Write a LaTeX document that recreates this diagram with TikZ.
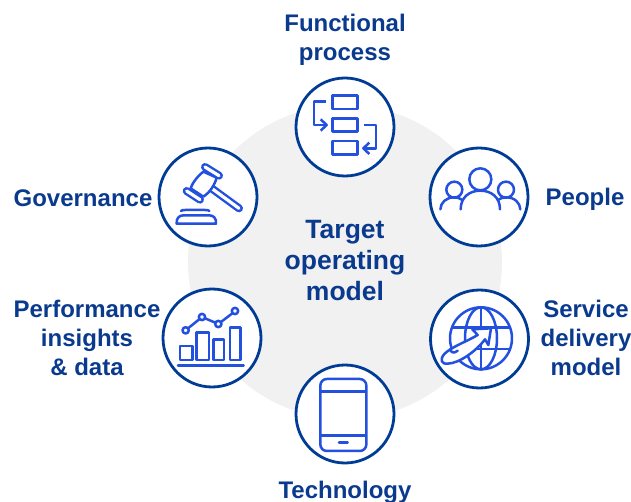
\documentclass[tikz,border=0pt]{standalone}
\usepackage{fontspec}
\setmainfont{Liberation Sans}
\definecolor{ringblue}{HTML}{003C96}
\definecolor{iconblue}{HTML}{2450E0}
\definecolor{textblue}{HTML}{0A3A8E}
\definecolor{discgray}{HTML}{F1F1F1}
\tikzset{
  ring/.style={circle,draw=ringblue,line width=2.8pt,fill=white,minimum size=98pt,inner sep=0pt},
  disc/.style={circle,fill=discgray,minimum size=314pt,inner sep=0pt},
  lbl/.style={text=textblue,font=\bfseries\fontsize{24}{29}\selectfont,align=center,inner sep=0pt},
  centerlbl/.style={text=textblue,font=\bfseries\fontsize{26.5}{31}\selectfont,align=center,inner sep=0pt},
  icon/.style={draw=iconblue,line width=2.5pt,line join=round},
  iconf/.style={icon,line cap=round},
  pillout/.style={draw=iconblue,line width=8pt,line cap=round},
  pillin/.style={draw=white,line width=3.2pt,line cap=round},
  zoomed/.style={shift={#1},scale=0.3333},
}
\begin{document}
\begin{tikzpicture}[x=1pt,y=-1pt]
\useasboundingbox (0,0) rectangle (631,502);
\node[disc] (hub) at (345,262) {};
\node[centerlbl] (hublabel) at (345,261) {Target\\operating\\model};
\node[ring] (functional) at (345,127) {};
\node[ring] (governance) at (208,197) {};
\node[ring] (people) at (479,197) {};
\node[ring] (performance) at (212,338) {};
\node[ring] (service) at (479.5,339) {};
\node[ring] (technology) at (345,414) {};
\node[lbl] (lf) at (345,39.5) {Functional\\process};
\node[lbl] (lg) at (83,198) {Governance};
\node[lbl] (lp) at (585,199) {People};
\node[lbl] (li) at (87,338) {Performance\\insights\\\&\ data};
\node[lbl] (ls) at (586,338) {Service\\delivery\\model};
\node[lbl] (lt) at (345,492) {Technology};
% functional process icon
\begin{scope}[zoomed={(280,60)}]
\draw[icon] (157,107) rectangle (232,147);
\draw[icon] (157,175) rectangle (232,215);
\draw[icon] (157,243) rectangle (232,283);
\draw[icon] (137,125) -- (102,125) -- (102,195) -- (138,195);
\draw[icon] (122,178) -- (140,195) -- (122,212);
\draw[icon] (252,195) -- (288,195) -- (288,265) -- (252,265);
\draw[icon] (268,248) -- (250,265) -- (268,282);
\end{scope}
% gavel icon
\begin{scope}[zoomed={(170,155)}]
\draw[pillout] (118,95) -- (207,160);
\draw[pillin] (118,95) -- (207,160);
\draw[icon,fill=white] (100,50) .. controls (85,62) and (70,78) .. (62,100) -- (100,125) .. controls (120,112) and (134,90) .. (140,68) -- cycle;
\draw[pillout] (105,36) -- (147,62);
\draw[pillin] (105,36) -- (147,62);
\draw[pillout] (50,108) -- (90,134);
\draw[pillin] (50,108) -- (90,134);
\draw[iconf] (33,168) .. controls (36,165) and (40,165) .. (46,165) -- (105,165) .. controls (111,165) and (115,165) .. (118,168);
\draw[iconf] (20,206) .. controls (18,190) and (28,181) .. (40,181) -- (118,181) .. controls (130,181) and (140,190) .. (138,206) -- cycle;
\end{scope}
% chart icon
\begin{scope}[zoomed={(150,280)}]
\draw[icon] (90,198) rectangle (128,240);
\draw[icon] (140,158) rectangle (177,240);
\draw[icon] (190,178) rectangle (222,240);
\draw[icon] (240,142) rectangle (272,240);
\draw[iconf] (84,256) -- (281,256);
\draw[icon] (107,151) circle (9.5);
\draw[icon] (156,111) circle (9.5);
\draw[icon] (205,132) circle (9.5);
\draw[icon] (255,93) circle (9.5);
\draw[iconf] (114,145) -- (149,117);
\draw[iconf] (165,115) -- (196,128);
\draw[iconf] (213,126) -- (247,100);
\end{scope}
% people icon
\begin{scope}[zoomed={(420,140)}]
\draw[icon] (181,118) circle (33);
\draw[icon] (103,149) circle (24);
\draw[icon] (258,149) circle (24);
\draw[iconf] (122,208) .. controls (122,172) and (148,152) .. (181,152) .. controls (214,152) and (240,172) .. (240,208);
\draw[iconf] (61,208) .. controls (62,188) and (78,172) .. (103,172) .. controls (112,172) and (120,175) .. (127,180);
\draw[iconf] (301,208) .. controls (300,188) and (284,172) .. (258,172) .. controls (249,172) and (241,175) .. (234,180);
\end{scope}
% globe icon
\begin{scope}[zoomed={(435,300)}]
\draw[icon] (138,115) circle (93);
\draw[icon] (138,115) ellipse (48 and 93);
\draw[iconf] (138,22) -- (138,208);
\draw[iconf] (54,83) -- (222,83);
\draw[iconf] (54,147) -- (222,147);
\draw[icon,fill=white] (112,88) -- (168,85) -- (160,135) -- (150,118) .. controls (122,155) and (72,190) .. (38,191) .. controls (18,193) and (14,178) .. (28,162) .. controls (50,140) and (95,125) .. (128,105) -- cycle;
\draw[iconf] (45,148) .. controls (50,160) and (58,160) .. (68,152);
\end{scope}
% phone icon
\begin{scope}[zoomed={(285,365)}]
\draw[icon,rounded corners=6.5pt] (106,42) rectangle (244,258);
\draw[icon] (106,80) -- (244,80);
\draw[icon] (106,211) -- (244,211);
\draw[iconf] (162,233) -- (188,233);
\end{scope}
\end{tikzpicture}
\end{document}
